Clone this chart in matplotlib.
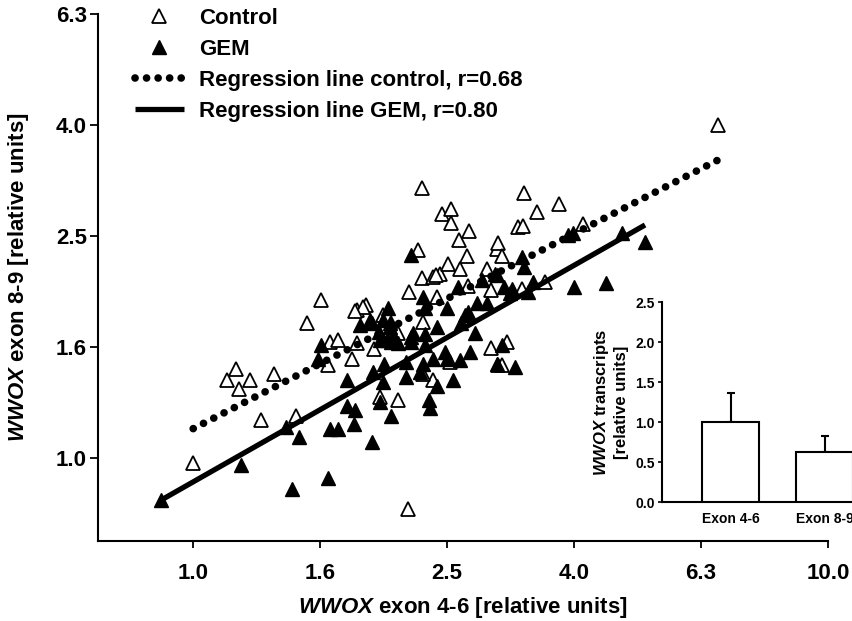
import matplotlib
matplotlib.use("Agg")
import matplotlib.pyplot as plt
from matplotlib.lines import Line2D
from matplotlib.ticker import NullLocator

plt.rcParams["font.family"] = ["Liberation Sans", "DejaVu Sans"]
plt.rcParams["font.weight"] = "bold"
plt.rcParams["axes.labelweight"] = "bold"
plt.rcParams["mathtext.fontset"] = "custom"
plt.rcParams["mathtext.it"] = "Liberation Sans:italic:bold"
plt.rcParams["mathtext.rm"] = "Liberation Sans:bold"
plt.rcParams["mathtext.bf"] = "Liberation Sans:bold"

# control samples (open triangles), relative units
ctrl_x = [1.00, 1.13, 1.17, 1.23, 1.18, 1.34, 1.28, 1.45, 1.51, 1.59, 1.63, 1.78, 1.64,
          1.69, 1.81, 1.93, 1.81, 1.87, 1.85, 1.80, 1.99, 2.07, 2.10, 1.97, 2.18, 2.29,
          2.19, 2.26, 2.30, 2.42, 2.29, 2.39, 2.45, 2.52, 2.47, 2.55, 2.55, 2.72, 2.62,
          2.63, 2.70, 3.01, 3.02, 3.07, 2.90, 3.25, 3.31, 3.32, 3.48, 3.77, 4.11, 6.71,
          2.71, 2.94, 3.30, 3.58, 2.95, 3.12, 3.02, 3.07, 2.54, 2.39, 2.30, 2.02, 2.10,
          2.41]
ctrl_y = [0.98, 1.38, 1.45, 1.38, 1.33, 1.42, 1.17, 1.19, 1.75, 1.93, 1.47, 1.51, 1.62,
          1.63, 1.61, 1.57, 1.85, 1.89, 1.87, 1.84, 1.81, 1.71, 1.27, 1.29, 0.81, 3.07,
          1.99, 2.37, 1.76, 1.95, 2.11, 2.12, 2.15, 2.24, 2.75, 2.81, 2.65, 2.57, 2.47,
          2.19, 2.31, 2.38, 2.44, 2.31, 2.19, 2.61, 2.62, 3.00, 2.77, 2.87, 2.64, 3.98,
          2.04, 2.01, 2.02, 2.08, 1.58, 1.62, 1.47, 1.47, 1.49, 1.38, 1.42, 1.81, 1.68,
          2.14]

# GEM samples (filled triangles), relative units
gem_x = [0.89, 1.19, 1.40, 1.47, 1.43, 1.63, 1.91, 1.75, 1.64, 1.69, 1.80, 1.79, 1.99,
         1.92, 1.97, 2.05, 2.16, 2.28, 2.35, 2.36, 2.42, 2.57, 2.51, 1.57, 1.59, 1.75,
         2.10, 2.20, 2.32, 1.83, 1.90, 2.03, 1.96, 2.07, 2.04, 1.91, 1.99, 2.20, 2.30,
         2.32, 2.51, 2.71, 2.42, 2.64, 2.78, 2.20, 2.32, 2.22, 1.97, 2.05, 3.07, 2.73,
         2.49, 2.39, 2.68, 2.63, 3.01, 3.21, 2.30, 2.16, 2.00, 3.30, 3.32, 2.85, 2.61,
         3.09, 3.01, 2.90, 2.80, 3.16, 3.43, 3.37, 3.18, 3.98, 3.97, 3.90, 4.74, 5.15,
         4.47, 2.99, 2.02, 2.04]
gem_y = [0.84, 0.97, 1.14, 1.09, 0.88, 0.92, 1.07, 1.38, 1.13, 1.13, 1.22, 1.15, 1.37,
         1.43, 1.26, 1.19, 1.40, 1.43, 1.27, 1.23, 1.35, 1.38, 1.51, 1.51, 1.60, 1.24,
         1.61, 1.62, 1.60, 1.74, 1.77, 1.86, 1.69, 1.65, 1.72, 1.75, 1.77, 2.32, 1.95,
         1.86, 1.86, 1.83, 1.72, 1.75, 1.68, 1.65, 1.67, 1.68, 1.63, 1.62, 1.60, 1.55,
         1.55, 1.51, 1.81, 1.50, 1.48, 1.46, 1.48, 1.49, 1.48, 2.30, 2.21, 2.09, 2.03,
         2.03, 2.14, 1.90, 1.90, 1.98, 2.08, 1.99, 2.02, 2.03, 2.54, 2.52, 2.54, 2.45,
         2.07, 2.15, 1.63, 1.75]

# regression lines as drawn (end points)
ctrl_fit_x = [1.00, 6.70]
ctrl_fit_y = [1.13, 3.44]
gem_fit_x = [0.89, 5.15]
gem_fit_y = [0.84, 2.63]

x_ticks = [1.0, 1.585, 2.512, 3.981, 6.310, 10.0]
x_tick_labels = ["1.0", "1.6", "2.5", "4.0", "6.3", "10.0"]
y_ticks = [1.0, 1.585, 2.512, 3.981, 6.310]
y_tick_labels = ["1.0", "1.6", "2.5", "4.0", "6.3"]

# inset bar chart
inset_cats = ["Exon 4-6", "Exon 8-9"]
inset_means = [1.0, 0.63]
inset_err = [0.36, 0.20]
inset_yticks = [0.0, 0.5, 1.0, 1.5, 2.0, 2.5]

W, H = 852, 621
fig = plt.figure(figsize=(W / 100, H / 100), dpi=100)
ax = fig.add_axes([98 / W, 1 - 541 / H, 730 / W, 527 / H])
ax.set_xscale("log")
ax.set_yscale("log")

dotted = (0, (0.01, 1.5))
ax.plot(ctrl_x, ctrl_y, ls="none", marker="^", ms=10, mfc="white", mec="black",
        mew=1.3, zorder=2)
ax.plot(gem_x, gem_y, ls="none", marker="^", ms=10, mfc="black", mec="black",
        mew=1.0, zorder=3)
ax.plot(ctrl_fit_x, ctrl_fit_y, color="black", lw=5.5, ls=dotted,
        dash_capstyle="round", zorder=4)
ax.plot(gem_fit_x, gem_fit_y, color="black", lw=3.8, solid_capstyle="butt", zorder=4)

ax.set_xlim(0.708, 10.0)
ax.set_ylim(0.709, 6.31)
ax.set_xticks(x_ticks, x_tick_labels)
ax.set_yticks(y_ticks, y_tick_labels)
ax.xaxis.set_minor_locator(NullLocator())
ax.yaxis.set_minor_locator(NullLocator())
ax.tick_params(axis="x", direction="out", length=5, width=1.3, pad=11, labelsize=16)
ax.tick_params(axis="y", direction="out", length=6, width=1.3, pad=2, labelsize=16)
for side in ("top", "right"):
    ax.spines[side].set_visible(False)
for side in ("left", "bottom"):
    ax.spines[side].set_linewidth(1.5)

ax.set_xlabel(r"$\mathit{WWOX}$ exon 4-6 [relative units]", fontsize=16, labelpad=8)
ax.set_ylabel(r"$\mathit{WWOX}$ exon 8-9 [relative units]", fontsize=16, labelpad=18)

handles = [
    Line2D([], [], ls="none", marker="^", ms=10, mfc="white", mec="black", mew=1.3),
    Line2D([], [], ls="none", marker="^", ms=10, mfc="black", mec="black"),
    Line2D([], [], color="black", lw=5.5, ls=dotted, dash_capstyle="round"),
    Line2D([], [], color="black", lw=3.8, solid_capstyle="butt"),
]
labels = ["Control", "GEM", "Regression line control, r=0.68",
          "Regression line GEM, r=0.80"]
fig.legend(handles, labels, loc="upper left", bbox_to_anchor=(135 / W, 1 - 8 / H),
           frameon=False, fontsize=16, handlelength=2.2, handletextpad=0.68,
           labelspacing=0.45, borderpad=0, borderaxespad=0)

iax = fig.add_axes([662 / W, 1 - 502 / H, 219 / W, 200 / H], facecolor="none")
pos = list(range(len(inset_cats)))
iax.errorbar(pos, inset_means, yerr=[[0] * len(inset_err), inset_err], fmt="none",
             ecolor="black", elinewidth=1.5, capsize=3, capthick=1.5, zorder=2)
iax.bar(pos, inset_means, width=0.6, color="white", edgecolor="black", lw=1.5, zorder=3)
iax.set_xlim(-0.729, 1.6)
iax.set_ylim(0, 2.5)
iax.set_yticks(inset_yticks, [f"{v:.1f}" for v in inset_yticks])
iax.set_xticks(pos, inset_cats)
iax.tick_params(axis="x", length=0, pad=7, labelsize=10)
iax.tick_params(axis="y", direction="out", length=3, width=1.2, pad=2, labelsize=10)
for side in ("top", "right"):
    iax.spines[side].set_visible(False)
for side in ("left", "bottom"):
    iax.spines[side].set_linewidth(1.5)
iax.set_ylabel(r"$\mathit{WWOX}$ transcripts" + "\n[relative units]", fontsize=12,
               labelpad=5, linespacing=1.2)

fig.savefig("out.png", dpi=100)
